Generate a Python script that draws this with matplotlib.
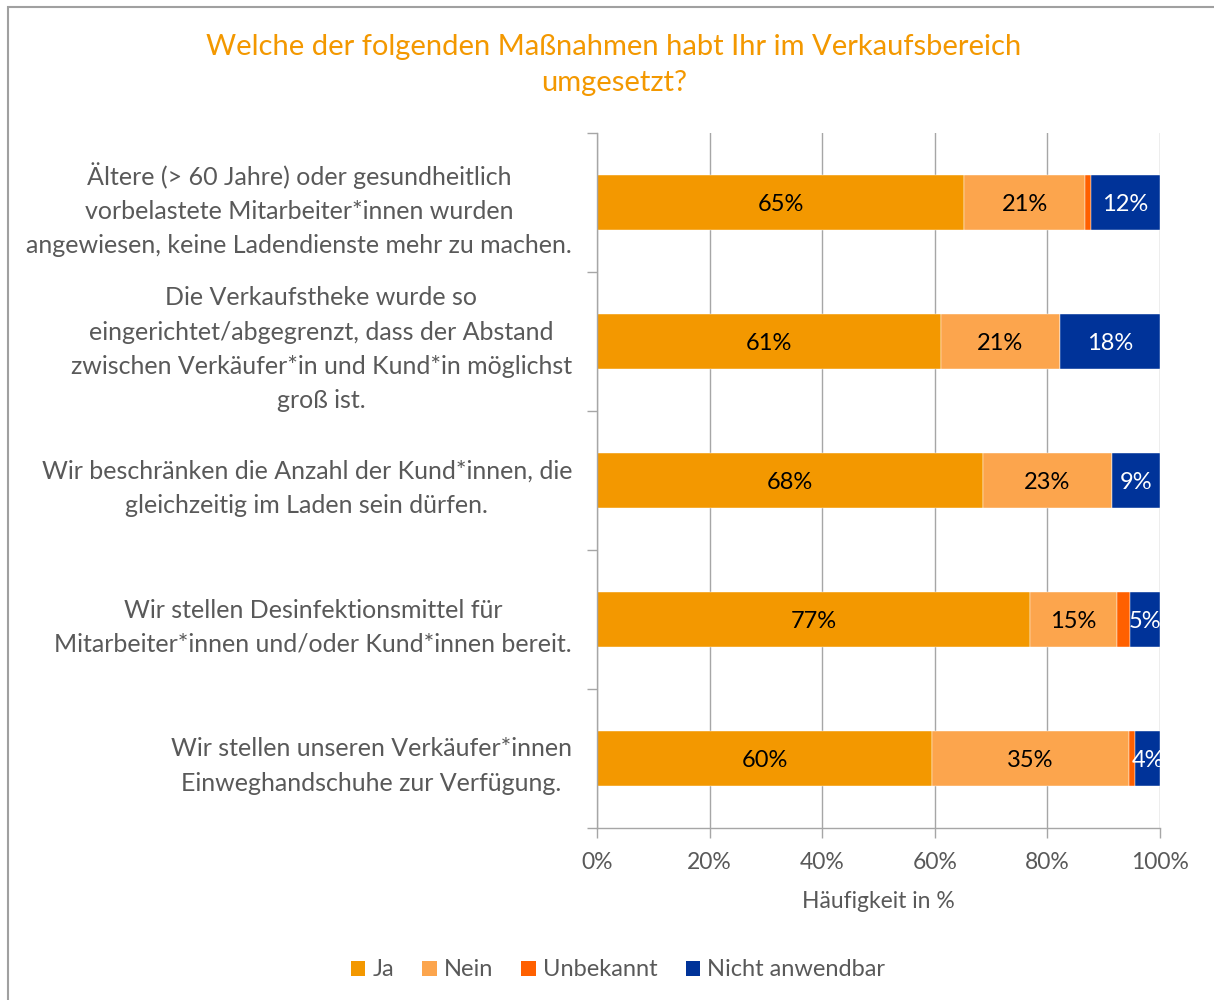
import matplotlib
matplotlib.use("Agg")
import matplotlib.pyplot as plt
from matplotlib.patches import Rectangle, Patch
import numpy as np

plt.rcParams['font.family'] = ['Lato', 'DejaVu Sans']

categories = [
    "Ältere (> 60 Jahre) oder gesundheitlich\nvorbelastete Mitarbeiter*innen wurden\nangewiesen, keine Ladendienste mehr zu machen.",
    "Die Verkaufstheke wurde so\neingerichtet/abgegrenzt, dass der Abstand\nzwischen Verkäufer*in und Kund*in möglichst\ngroß ist.",
    "Wir beschränken die Anzahl der Kund*innen, die\ngleichzeitig im Laden sein dürfen.",
    "Wir stellen Desinfektionsmittel für\nMitarbeiter*innen und/oder Kund*innen bereit.",
    "Wir stellen unseren Verkäufer*innen\nEinweghandschuhe zur Verfügung.",
]
series_names = ["Ja", "Nein", "Unbekannt", "Nicht anwendbar"]
ja = [65.2, 61.1, 68.5, 76.9, 59.5]
nein = [21.5, 21.1, 22.9, 15.4, 35.0]
unbekannt = [1.0, 0.0, 0.0, 2.3, 1.1]
nicht = [12.3, 17.8, 8.6, 5.4, 4.4]
ja_labels = ["65%", "61%", "68%", "77%", "60%"]
nein_labels = ["21%", "21%", "23%", "15%", "35%"]
nicht_labels = ["12%", "18%", "9%", "5%", "4%"]
xticks = [0, 20, 40, 60, 80, 100]
xtick_labels = ["0%", "20%", "40%", "60%", "80%", "100%"]

colors = ["#F39800", "#FCA54D", "#FF6000", "#003399"]
gray = "#595959"
axis_gray = "#A6A6A6"

fig = plt.figure(figsize=(12.14, 10), dpi=100)
# outer frame
fig.patches.append(Rectangle((8/1214, -0.1), 1.2, 1 - 7/1000 + 0.1, transform=fig.transFigure,
                             fill=False, edgecolor="#A0A0A0", linewidth=1.5))

ax = fig.add_axes([597/1214, 1 - 828/1000, (1160-597)/1214, (828-133)/1000])

y = np.arange(len(categories))
data = [ja, nein, unbekannt, nicht]
left = np.zeros(len(categories))
bars = []
for vals, c, name in zip(data, colors, series_names):
    b = ax.barh(y, vals, left=left, height=0.40, color=c, label=name, zorder=3,
                edgecolor='white', linewidth=0.3)
    bars.append(b)
    left = left + np.array(vals)

for b, labs, col in [(bars[0], ja_labels, 'black'), (bars[1], nein_labels, 'black'),
                     (bars[3], nicht_labels, 'white')]:
    txts = ax.bar_label(b, labels=labs, label_type='center', fontsize=17, color=col)
    for t in txts:
        t.set_va('center_baseline')

ax.set_xlim(0, 100)
ax.set_ylim(len(categories) - 0.5, -0.5)

ax.set_xticks(xticks)
ax.set_xticklabels(xtick_labels, fontsize=16.5, color=gray)
ax.tick_params(axis='x', length=7, width=1, color=axis_gray, pad=10)
ax.grid(axis='x', color=axis_gray, linewidth=1, zorder=0)

ax.set_yticks(np.arange(-0.5, len(categories), 1.0))
ax.set_yticklabels([])
ax.set_yticks(y, minor=True)
ax.set_yticklabels(categories, minor=True, fontsize=18, color=gray,
                   multialignment='center', linespacing=1.58)
ax.tick_params(axis='y', which='major', length=7, width=1, color=axis_gray)
ax.tick_params(axis='y', which='minor', length=0, pad=18)

for s in ['top', 'right']:
    ax.spines[s].set_visible(False)
for s in ['left', 'bottom']:
    ax.spines[s].set_color(axis_gray)
    ax.spines[s].set_linewidth(1)
    ax.spines[s].set_zorder(4)

ax.set_xlabel("Häufigkeit in %", fontsize=16.5, color=gray, labelpad=13)

fig.text(614/1214, 1 - 65/1000, "Welche der folgenden Maßnahmen habt Ihr im Verkaufsbereich\numgesetzt?",
         ha='center', va='center', fontsize=21, color="#F39800", linespacing=1.45)

handles = [Patch(facecolor=c, label=n) for c, n in zip(colors, series_names)]
fig.legend(handles=handles, loc='center', bbox_to_anchor=(618/1214, 1 - 970/1000), ncol=4,
           frameon=False, fontsize=17, handlelength=0.6, handleheight=0.6,
           handletextpad=0.3, columnspacing=1.2, labelcolor=gray)

fig.savefig("out.png", dpi=100)
